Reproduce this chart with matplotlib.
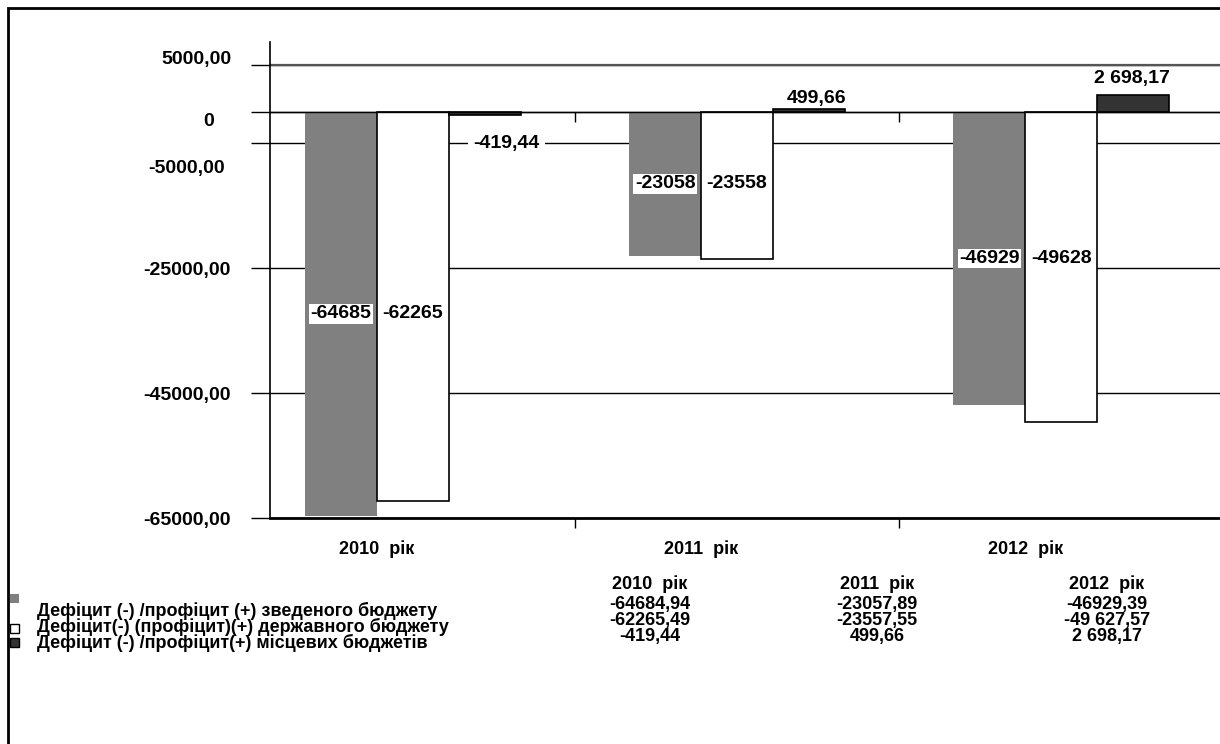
import numpy as np
import matplotlib
matplotlib.use("Agg")
import matplotlib.pyplot as plt
import matplotlib.transforms as mtransforms
from matplotlib.patches import Rectangle

# data
years = ["2010  рік", "2011  рік", "2012  рік"]
consolidated = [-64684.94, -23057.89, -46929.39]
state = [-62265.49, -23557.55, -49627.57]
local = [-419.44, 499.66, 2698.17]

series_names = ["Дефіцит (-) /профіцит (+) зведеного бюджету",
                "Дефіцит(-) (профіцит)(+) державного бюджету",
                "Дефіцит (-) /профіцит(+) місцевих бюджетів"]
table_rows = [["-64684,94", "-23057,89", "-46929,39"],
              ["-62265,49", "-23557,55", "-49 627,57"],
              ["-419,44", "499,66", "2 698,17"]]
local_labels = ["-419,44", "499,66", "2 698,17"]

grid_values = [7500, 0, -5000, -25000, -45000, -65000]
grid_labels = ["5000,00", "0", "-5000,00", "-25000,00", "-45000,00", "-65000,00"]
# label offsets (px) as in the source picture
label_dx = [0, -17, -6, 0, 0, 0]
label_dy = [8, -8, -23, 0, 0, 0]

plt.rcParams['font.family'] = ['Liberation Sans', 'DejaVu Sans']
plt.rcParams['font.weight'] = 'bold'

W, H = 1220, 744
fig = plt.figure(figsize=(W / 100, H / 100), dpi=100)

# outer frame
fig.patches.append(Rectangle((8 / W, -0.1), 1.2, (H - 8) / H + 0.1,
                             transform=fig.transFigure, fill=False,
                             edgecolor="black", linewidth=2))

ax = fig.add_axes([270 / W, (H - 518) / H, (W - 270) / W, (518 - 42) / H])

x = np.arange(len(years))
bw = 0.222
ax.bar(x - bw, consolidated, bw, color="#808080", edgecolor="none", zorder=3)
ax.bar(x, state, bw, color="white", edgecolor="black", linewidth=1.2, zorder=3)
ax.bar(x + bw, local, bw, color="#333333", edgecolor="black", linewidth=1.2, zorder=3)

ax.set_xlim(-0.441, 2.49)
ax.set_ylim(-65000, 11200)

# gridlines
for v in grid_values:
    ax.axhline(v, color="black", linewidth=1.0, zorder=1)
ax.axhline(grid_values[0], color="#555555", linewidth=1.6, zorder=1)
ax.axhline(0, color="black", linewidth=1.0, zorder=4)
ax.vlines([0.5, 1.5], -1600, 0, color="black", linewidth=1.0, zorder=4)

ax.set_yticks(grid_values)
ax.set_yticklabels(grid_labels, fontsize=14, fontweight="bold")
ax.tick_params(axis="y", direction="out", length=14, width=1.0, pad=14)
ax.set_xticks([0.5, 1.5])
ax.set_xticklabels([])
ax.tick_params(axis="x", direction="out", length=7, width=1.0)

for s in ["top", "right"]:
    ax.spines[s].set_visible(False)
ax.spines["left"].set_linewidth(1.2)
ax.spines["bottom"].set_linewidth(2)

# category labels sit between first and second bar
down = mtransforms.ScaledTranslation(0, -16 / 72, fig.dpi_scale_trans)
for i, yr in enumerate(years):
    ax.text(i - bw / 2, -65000, yr, transform=ax.transData + down, ha="center", va="top",
            fontsize=13, fontweight="bold")

# bar value labels
for i in range(len(years)):
    ymid = consolidated[i] * 0.5
    ax.text(i - bw, ymid, f"{consolidated[i]:.0f}", ha="center", va="center",
            fontsize=14, fontweight="bold", zorder=6,
            bbox=dict(facecolor="white", edgecolor="none", pad=1))
    ax.text(i, ymid, f"{state[i]:.0f}", ha="center", va="center",
            fontsize=14, fontweight="bold", zorder=6)
ax.text(0 + bw * 1.3, -5000, local_labels[0], ha="center", va="center",
        fontsize=14, fontweight="bold", zorder=6,
        bbox=dict(facecolor="white", edgecolor="none", pad=4))
ax.text(1 + bw * 1.1, local[1] + 300, local_labels[1],
        ha="center", va="bottom", fontsize=14, fontweight="bold", zorder=6)
ax.text(2 + bw * 0.98, local[2] + 1300, local_labels[2],
        ha="center", va="bottom", fontsize=14, fontweight="bold", zorder=6)

# shift y tick labels to match the source
fig.canvas.draw()
for tick, dx, dy in zip(ax.yaxis.get_major_ticks(), label_dx, label_dy):
    lab = tick.label1
    lab.set_transform(lab.get_transform() +
                      mtransforms.ScaledTranslation(dx / 100, dy / 100, fig.dpi_scale_trans))

# data table under the chart
col_x = [650, 877, 1107]
for j, yr in enumerate(years):
    fig.text(col_x[j] / W, 1 - 584 / H, yr, ha="center", va="center", fontsize=13, fontweight="bold")
row_y = [604, 620, 636]
colors = ["#808080", "white", "#333333"]
for r in range(3):
    fig.text(37 / W, 1 - (row_y[r] + 7) / H, series_names[r], ha="left", va="center",
             fontsize=13, fontweight="bold")
    for j in range(3):
        fig.text(col_x[j] / W, 1 - row_y[r] / H, table_rows[r][j], ha="center", va="center",
                 fontsize=13, fontweight="bold")
sq_y = [598, 628, 642]
for r in range(3):
    fig.patches.append(Rectangle((10 / W, 1 - (sq_y[r] + 5) / H), 9 / W, 9 / H,
                                 transform=fig.transFigure, facecolor=colors[r],
                                 edgecolor="black" if r else "none", linewidth=1))

fig.savefig("out.png", dpi=100)
